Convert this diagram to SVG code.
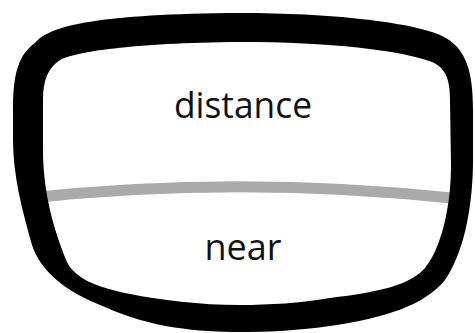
<svg xmlns="http://www.w3.org/2000/svg" width="475" height="333" viewBox="0 0 475 333">
<style>
.lbl{font-family:"Open Sans","Noto Sans",sans-serif;font-size:36px;fill:#111;text-anchor:middle}
</style>
<rect width="475" height="333" fill="#fff"/>
<path id="divider" d="M 30,198 Q 240,175 462,199" fill="none" stroke="#aaaaaa" stroke-width="11"/>
<path id="frame" fill="#000" fill-rule="evenodd" d="M 240,13 C 330,13 410,22 440,35 C 468,47 473,75 473,110 L 473,165 C 472,215 462,255 445,280 C 425,305 385,318 330,326 C 295,331 265,332 240,332 C 200,332 150,328 105,307 C 65,292 40,270 32,245 C 22,210 13,175 13,140 L 13,110 C 13,75 18,55 35,43 C 50,25 100,14 240,13 Z M 240,42 C 330,42 400,50 432,62 C 446,68 450,80 450,100 L 451,165 C 451,210 440,250 425,268 C 410,285 380,292 330,298 C 300,303 270,305 240,305 C 200,305 160,300 130,294 C 95,287 75,278 67,262 C 58,240 43,200 43,150 L 43,100 C 43,80 48,68 60,60 C 75,52 130,43 240,42 Z"/>
<text class="lbl" x="243" y="118" textLength="138" lengthAdjust="spacingAndGlyphs">distance</text>
<text class="lbl" x="243" y="260">near</text>
</svg>
